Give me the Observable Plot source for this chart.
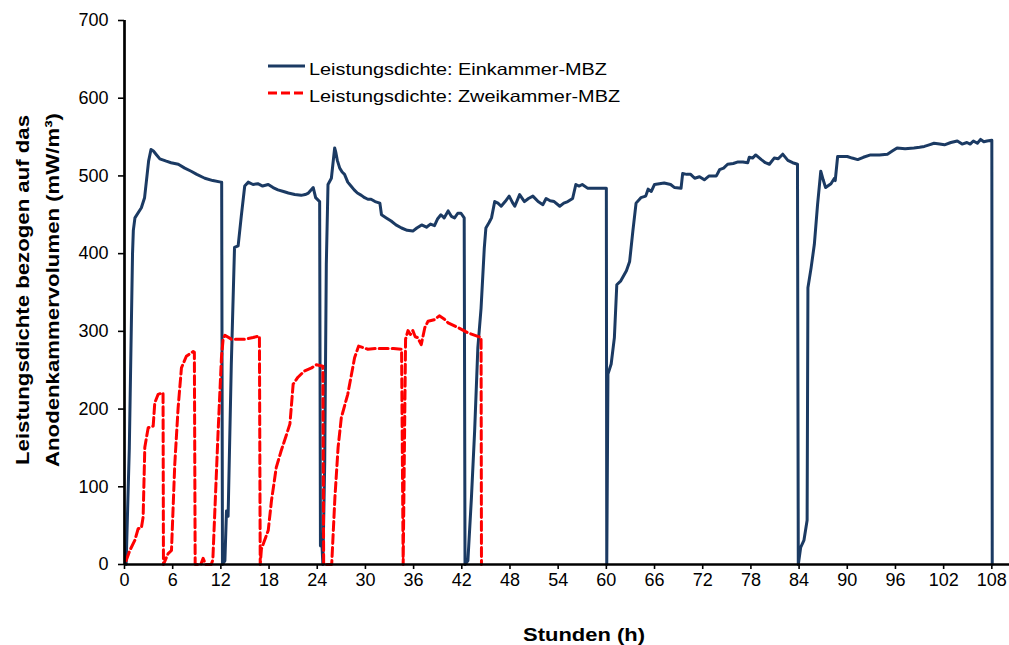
<!DOCTYPE html>
<html>
<head>
<meta charset="utf-8">
<script src="https://cdn.jsdelivr.net/npm/d3@7"></script>
<script src="https://cdn.jsdelivr.net/npm/@observablehq/plot@0.6"></script>
<style>
  html, body { margin: 0; padding: 0; background: #fff; }
  #chart { position: relative; width: 1009px; height: 645px; }
</style>
</head>
<body>
<div id="chart"></div>
<script>
// ---- Data ----
const xTicks = [0, 6, 12, 18, 24, 30, 36, 42, 48, 54, 60, 66, 72, 78, 84, 90, 96, 102, 108];
const yTicks = [0, 100, 200, 300, 400, 500, 600, 700];

const seriesNames = ["Leistungsdichte: Einkammer-MBZ", "Leistungsdichte: Zweikammer-MBZ"];

// Einkammer-MBZ (hours, mW/m³)
const einHours = [0.2,0.6,1.0,1.1,1.3,2.1,2.5,2.8,3.0,3.3,3.6,4.0,4.4,5.2,5.8,6.7,7.5,8.3,9.0,10.0,11.0,12.0,12.1,
  12.2,12.5,12.7,12.9,13.3,13.7,14.15,14.56,14.97,15.4,16.0,16.6,17.2,17.9,18.5,19.1,19.8,20.4,21.2,22.0,22.5,22.9,23.5,23.8,24.3,
  24.4,24.6,24.7,24.93,25.13,25.34,25.76,26.17,26.3,26.5,26.8,27.1,27.4,27.8,28.2,28.6,29.0,29.5,29.9,30.3,30.7,31.2,31.8,32.0,32.6,33.2,33.8,34.5,35.2,35.9,36.4,37.0,37.6,38.1,38.6,39.0,39.4,39.8,40.3,40.7,41.1,41.5,41.9,42.3,
  42.4,42.76,43.2,43.6,44.0,44.4,44.8,45.0,45.4,45.7,46.1,46.5,46.9,47.4,47.9,48.3,48.6,49.2,49.8,50.3,50.85,51.5,52.1,52.5,53.0,53.5,54.2,54.7,55.2,55.8,56.2,56.6,57.0,57.7,58.5,59.3,60.0,
  60.05,60.2,60.6,61.0,61.3,61.8,62.5,62.9,63.3,63.7,64.3,64.9,65.2,65.6,66.0,66.6,67.2,68.0,68.5,69.3,69.5,70.0,70.5,71.0,71.6,72.2,72.8,73.7,74.1,74.6,75.1,75.8,76.4,77.0,77.6,77.8,78.2,78.6,79.3,79.8,80.3,80.9,81.4,81.96,82.6,83.2,83.8,
  83.9,84.2,84.6,85.0,85.1,85.5,85.9,86.3,86.7,87.0,87.3,87.97,88.4,88.5,88.8,89.4,90.0,90.6,91.3,92.0,92.9,94.0,95.0,95.6,96.2,97.2,98.3,99.0,99.6,100.2,100.8,101.5,102.1,102.9,103.7,104.3,104.9,105.3,105.7,106.2,106.6,107.0,107.4,108.0,108.05];
const einValues = [0,150,400,430,446,459,472,500,519,534,532,527,522,519,517,515,510,506,502,497,494,492,492,
  0,5,69,62,258,408,410,450,487,492,489,490,487,489,485,482,480,478,476,475,476,478,485,472,467,
  24,23,0,130,386,489,497,536,531,520,510,505,502,492,487,482,478,475,472,470,470,467,465,450,446,442,437,433,430,429,433,437,434,438,436,445,450,446,455,448,446,452,452,446,
  0,5,86,172,279,330,407,433,440,446,467,465,461,467,474,466,461,476,467,471,474,467,463,471,468,467,461,465,467,471,489,487,489,484,484,484,484,
  0,245,258,292,360,365,378,390,429,465,472,474,483,480,489,490,491,489,485,484,503,502,502,497,499,495,500,500,508,510,515,516,518,518,517,524,523,527,521,517,515,523,522,528,520,517,515,
  0,22,31,57,356,382,412,463,506,495,485,490,497,494,525,525,525,523,521,524,527,527,528,532,536,535,536,537,538,540,542,541,540,543,545,541,543,541,545,542,547,544,545,546,0];

// Zweikammer-MBZ (hours, mW/m³)
const zweiHours = [0.2,0.66,1.28,1.7,2.1,2.32,2.53,2.95,3.57,3.77,4.19,4.8,
  4.85,5.43,5.85,6.26,6.68,7.09,7.7,8.55,8.7,
  8.8,9.5,9.79,10.1,10.8,11.0,11.66,12.07,12.28,12.5,13.3,14.97,16.0,16.8,
  16.9,17.05,17.9,18.3,18.9,19.5,20.2,20.6,21.0,21.6,22.4,23.3,23.9,24.3,24.7,
  24.8,25.8,26.2,26.6,27.0,27.8,28.65,29.15,30.3,31.3,32.4,33.5,34.5,
  34.7,34.96,35.0,35.3,35.6,35.9,36.2,36.5,36.95,37.4,37.8,38.6,39.2,39.8,40.3,41.5,42.8,44.4,44.45];
const zweiValues = [5,18,31,46,47,61,151,176,178,208,219,221,
  0,14,18,129,202,253,268,274,273,
  0,0,8,0,0,6,172,266,290,295,290,290,292,294,
  0,20,44,82,125,146,168,181,232,241,249,253,257,256,255,
  0,0,86,151,189,219,266,281,277,278,278,278,277,
  0,250,290,301,296,301,293,292,283,305,313,315,320,316,311,305,298,292,0];

const ein = einHours.map((h, i) => ({hours: h, value: einValues[i], series: seriesNames[0]}));
const zwei = zweiHours.map((h, i) => ({hours: h, value: zweiValues[i], series: seriesNames[1]}));

const blue = "#1b3a63";
const red = "#ff0000";
const dash = "9,4";

const chart = Plot.plot({
  width: 1009,
  height: 645,
  marginLeft: 124,
  marginRight: 0,
  marginTop: 20,
  marginBottom: 81,
  style: {fontFamily: "'Liberation Sans', Arial, sans-serif", color: "#000", background: "#fff"},
  x: {domain: [0, 110.2], label: null},
  y: {domain: [0, 700], label: null},
  marks: [
    Plot.axisX({ticks: xTicks, tickSize: 5, tickPadding: 4, fontSize: 18, strokeWidth: 1.6, label: null}),
    Plot.axisY({ticks: yTicks, tickSize: 6, tickPadding: 10, fontSize: 18, strokeWidth: 1.6, label: null}),
    Plot.line(ein, {x: "hours", y: "value", stroke: blue, strokeWidth: 3, strokeLinejoin: "round"}),
    Plot.line(zwei, {x: "hours", y: "value", stroke: red, strokeWidth: 3, strokeDasharray: dash}),
    Plot.ruleX([0], {stroke: "#000", strokeWidth: 2.7}),
    Plot.ruleY([0], {stroke: "#000", strokeWidth: 2.7})
  ]
});

document.getElementById("chart").appendChild(chart);

// Axis titles and legend (text)
const svg = d3.select(chart);
const ff = "'Liberation Sans', Arial, sans-serif";

svg.append("text")
  .attr("x", 584).attr("y", 641)
  .attr("text-anchor", "middle")
  .attr("font-family", ff).attr("font-weight", "bold").attr("font-size", 19)
  .attr("textLength", 122).attr("lengthAdjust", "spacingAndGlyphs")
  .text("Stunden (h)");

const yl = svg.append("g").attr("transform", "translate(29,290) rotate(-90)");
yl.append("text")
  .attr("x", 0).attr("y", 0).attr("text-anchor", "middle")
  .attr("font-family", ff).attr("font-weight", "bold").attr("font-size", 19)
  .attr("textLength", 350).attr("lengthAdjust", "spacingAndGlyphs")
  .text("Leistungsdichte bezogen auf das");
yl.append("text")
  .attr("x", 0).attr("y", 30).attr("text-anchor", "middle")
  .attr("font-family", ff).attr("font-weight", "bold").attr("font-size", 19)
  .attr("textLength", 354).attr("lengthAdjust", "spacingAndGlyphs")
  .text("Anodenkammervolumen (mW/m³)");

const legend = svg.append("g").attr("text-anchor", "start");
const legendRows = [
  {name: seriesNames[0], color: blue, dash: null, y: 69, len: 298},
  {name: seriesNames[1], color: red, dash: dash, y: 96, len: 311}
];
legendRows.forEach(r => {
  legend.append("line")
    .attr("x1", 268).attr("x2", 305).attr("y1", r.y - 3).attr("y2", r.y - 3)
    .attr("stroke", r.color).attr("stroke-width", 3)
    .attr("stroke-dasharray", r.dash);
  legend.append("text")
    .attr("x", 309).attr("y", r.y + 6)
    .attr("text-anchor", "start")
    .attr("font-family", ff).attr("font-size", 16.5)
    .attr("textLength", r.len).attr("lengthAdjust", "spacingAndGlyphs")
    .text(r.name);
});
</script>
</body>
</html>
